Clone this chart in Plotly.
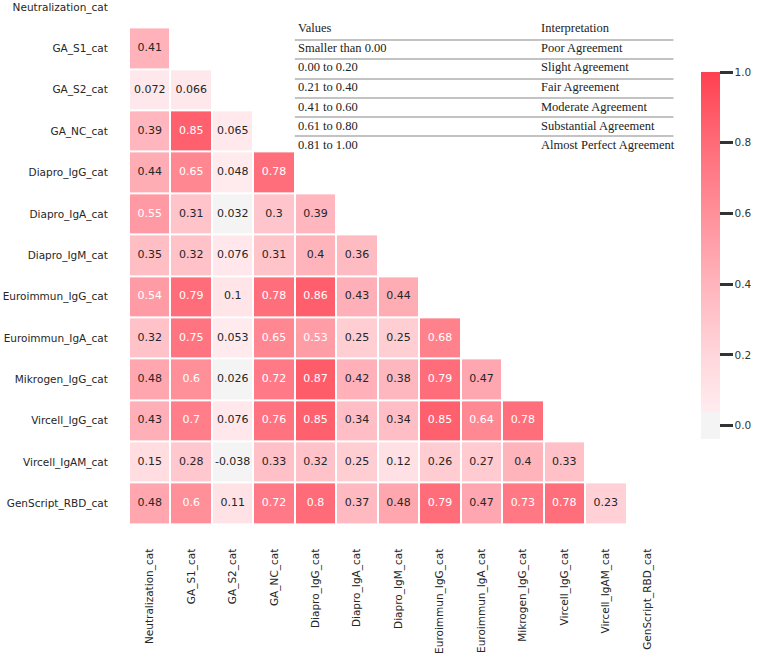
import plotly.graph_objects as go

labels = ["Neutralization_cat", "GA_S1_cat", "GA_S2_cat", "GA_NC_cat", "Diapro_IgG_cat",
          "Diapro_IgA_cat", "Diapro_IgM_cat", "Euroimmun_IgG_cat", "Euroimmun_IgA_cat",
          "Mikrogen_IgG_cat", "Vircell_IgG_cat", "Vircell_IgAM_cat", "GenScript_RBD_cat"]

lower = [
    [],
    [0.41],
    [0.072, 0.066],
    [0.39, 0.85, 0.065],
    [0.44, 0.65, 0.048, 0.78],
    [0.55, 0.31, 0.032, 0.3, 0.39],
    [0.35, 0.32, 0.076, 0.31, 0.4, 0.36],
    [0.54, 0.79, 0.1, 0.78, 0.86, 0.43, 0.44],
    [0.32, 0.75, 0.053, 0.65, 0.53, 0.25, 0.25, 0.68],
    [0.48, 0.6, 0.026, 0.72, 0.87, 0.42, 0.38, 0.79, 0.47],
    [0.43, 0.7, 0.076, 0.76, 0.85, 0.34, 0.34, 0.85, 0.64, 0.78],
    [0.15, 0.28, -0.038, 0.33, 0.32, 0.25, 0.12, 0.26, 0.27, 0.4, 0.33],
    [0.48, 0.6, 0.11, 0.72, 0.8, 0.37, 0.48, 0.79, 0.47, 0.73, 0.78, 0.23],
]

table_values = ["Values", "Smaller than 0.00", "0.00 to 0.20", "0.21 to 0.40",
                "0.41 to 0.60", "0.61 to 0.80", "0.81 to 1.00"]
table_interp = ["Interpretation", "Poor Agreement", "Slight Agreement", "Fair Agreement",
                "Moderate Agreement", "Substantial Agreement", "Almost Perfect Agreement"]

n = len(labels)
z = [[(lower[i][j] if j < len(lower[i]) else None) for j in range(n)] for i in range(n)]

zmin, zmax = -0.038, 1.0
def pos(v):
    return (v - zmin) / (zmax - zmin)

colorscale = [
    [0.0, "rgb(244,244,244)"],
    [pos(0.037), "rgb(244,244,244)"],
    [pos(0.04), "rgb(255,236,239)"],
    [pos(0.2), "rgb(255,214,219)"],
    [pos(0.4), "rgb(255,180,188)"],
    [pos(0.6), "rgb(255,144,154)"],
    [pos(0.8), "rgb(255,107,120)"],
    [1.0, "rgb(255,64,80)"],
]

fig = go.Figure()
fig.add_trace(go.Heatmap(
    z=z, x=labels, y=labels, zmin=zmin, zmax=zmax, colorscale=colorscale,
    xgap=2, ygap=2, hoverongaps=False,
    colorbar=dict(
        x=(702 - 129) / 539.5, xanchor="left", xpad=0,
        y=(524 - 439) / 524, yanchor="bottom", ypad=0,
        len=(439 - 72) / 524, lenmode="fraction", thickness=19,
        outlinewidth=0, ticks="outside", ticklen=13, tickwidth=3, tickcolor="#333333",
        tickvals=[0, 0.2, 0.4, 0.6, 0.8, 1.0], tickformat=".1f",
        tickprefix="\u00a0\u00a0",
        tickfont=dict(family="DejaVu Sans", size=10.5, color="#333333"),
    ),
))

tx, ty, tt, tc = [], [], [], []
for i in range(n):
    for j, v in enumerate(lower[i]):
        tx.append(labels[j]); ty.append(labels[i])
        tt.append(format(v, ".2g"))
        tc.append("white" if v > 0.5 else "#262626")
fig.add_trace(go.Scatter(x=tx, y=ty, text=tt, mode="text", hoverinfo="skip",
                         textfont=dict(family="DejaVu Sans", size=11, color=tc),
                         showlegend=False))

# table
line_ys = [40, 59, 79, 98, 117, 136]
text_ys = [28, 48, 67, 87, 107, 126, 145]
def px_x(p):
    return (p - 129) / 539.5
def px_y(p):
    return (524 - p) / 524
for k in range(len(table_values)):
    fig.add_annotation(x=px_x(296), y=px_y(text_ys[k]), xref="paper", yref="paper",
                       text=table_values[k], showarrow=False, xanchor="left", yanchor="middle",
                       font=dict(family="Liberation Serif", size=12.5, color="#222222"))
    fig.add_annotation(x=px_x(539), y=px_y(text_ys[k]), xref="paper", yref="paper",
                       text=table_interp[k], showarrow=False, xanchor="left", yanchor="middle",
                       font=dict(family="Liberation Serif", size=12.5, color="#222222"))
for ly in line_ys:
    fig.add_shape(type="line", xref="paper", yref="paper",
                  x0=px_x(295), x1=px_x(674), y0=px_y(ly), y1=px_y(ly),
                  line=dict(color="#888888", width=1.2))

fig.update_layout(
    width=761, height=654,
    margin=dict(l=129, r=761 - 668.5, t=0, b=130, autoexpand=False),
    plot_bgcolor="white", paper_bgcolor="white",
    xaxis=dict(showgrid=False, zeroline=False, showline=False, tickangle=-90,
               automargin=False,
               ticks="outside", ticklen=19.5, tickcolor="rgba(0,0,0,0)",
               tickfont=dict(family="DejaVu Sans", size=10.5, color="#262626"),
               range=[-0.5, 12.5]),
    yaxis=dict(showgrid=False, zeroline=False, showline=False,
               automargin=False,
               ticks="outside", ticklen=18, tickcolor="rgba(0,0,0,0)",
               tickfont=dict(family="DejaVu Sans", size=10.5, color="#262626"),
               range=[12.5, -0.17]),
)

fig.write_html("out.html", config={"displayModeBar": False},
               post_script="document.body.style.margin='0';document.body.style.overflow='hidden';")
